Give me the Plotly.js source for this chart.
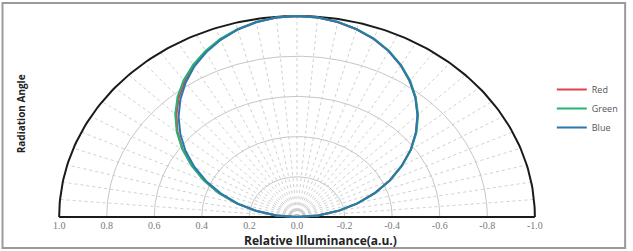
<!DOCTYPE html>
<html>
<head>
<meta charset="utf-8">
<script src="https://cdn.plot.ly/plotly-3.0.1.min.js"></script>
<style>html,body{margin:0;padding:0;background:#fff}#chart{width:633px;height:251px}</style>
</head>
<body>
<div id="chart"></div>
<script>
// Radiation angle in degrees (from the normal), left side negative
const angles = [-90,-85,-80,-75,-70,-65,-60,-55,-50,-45,-40,-35,-30,-25,-20,-15,-10,-5,0,5,10,15,20,25,30,35,40,45,50,55,60,65,70,75,80,85,90];
// Relative illuminance per series
const redValues   = [0,0.088,0.176,0.263,0.348,0.431,0.511,0.586,0.655,0.717,0.774,0.824,0.869,0.907,0.940,0.966,0.985,0.996,1.0,0.996,0.985,0.967,0.943,0.911,0.872,0.826,0.775,0.717,0.653,0.584,0.508,0.430,0.348,0.263,0.177,0.088,0];
const greenValues = [0,0.089,0.178,0.266,0.351,0.433,0.512,0.589,0.660,0.724,0.781,0.831,0.874,0.911,0.943,0.968,0.986,0.996,1.0,0.997,0.986,0.968,0.945,0.913,0.874,0.829,0.777,0.720,0.656,0.586,0.510,0.432,0.350,0.265,0.178,0.089,0];
const blueValues  = [0,0.085,0.172,0.257,0.340,0.421,0.498,0.572,0.640,0.704,0.763,0.816,0.864,0.904,0.938,0.965,0.984,0.996,1.0,0.996,0.985,0.967,0.943,0.911,0.872,0.826,0.774,0.716,0.652,0.583,0.508,0.430,0.348,0.263,0.177,0.088,0];
const seriesNames = ['Red','Green','Blue'];
const seriesColors = ['#e2404a','#25b474','#2b78ae'];
// Axis ticks
const tickValues = [1.0,0.8,0.6,0.4,0.2,0.0,-0.2,-0.4,-0.6,-0.8,-1.0];
const tickLabels = ['1.0','0.8','0.6','0.4','0.2','0.0','-0.2','-0.4','-0.6','-0.8','-1.0'];
// Grid
const ringRadii = [0.2,0.4,0.6,0.8];
const outerRadius = 1.0;
const spokeAngles = [];
for (let a = -85; a <= 85; a += 5) spokeAngles.push(a);

const deg = Math.PI/180;
function toXY(r, a){ return [-r*Math.sin(a*deg), r*Math.cos(a*deg)]; }
function arc(r){
  const xs=[], ys=[];
  for (let a=-90; a<=90; a+=1){ const p=toXY(r,a); xs.push(p[0]); ys.push(p[1]); }
  return {xs, ys};
}

const traces = [];
// spokes
{
  const xs=[], ys=[];
  spokeAngles.forEach(a=>{ const p=toXY(outerRadius,a); xs.push(0,p[0],null); ys.push(0,p[1],null); });
  traces.push({x:xs,y:ys,mode:'lines',line:{color:'#bcbcbc',width:0.7,dash:'dot'},hoverinfo:'skip',showlegend:false});
}
// rings
ringRadii.forEach(r=>{
  const c=arc(r);
  traces.push({x:c.xs,y:c.ys,mode:'lines',line:{color:'#c6c6c6',width:1},hoverinfo:'skip',showlegend:false});
});
// outer ring + baseline
{
  const c=arc(outerRadius);
  traces.push({x:c.xs,y:c.ys,mode:'lines',line:{color:'#1a1a1a',width:2},hoverinfo:'skip',showlegend:false});
  traces.push({x:[outerRadius,-outerRadius],y:[0,0],mode:'lines',line:{color:'#1a1a1a',width:2},hoverinfo:'skip',showlegend:false});
}
// data
[redValues,greenValues,blueValues].forEach((vals,i)=>{
  const xs=[], ys=[];
  vals.forEach((r,k)=>{ const p=toXY(r,angles[k]); xs.push(p[0]); ys.push(p[1]); });
  traces.push({x:xs,y:ys,mode:'lines',name:seriesNames[i],line:{color:seriesColors[i],width:2}});
});

const T=10, H=208;
const layout = {
  width:633, height:251,
  margin:{l:52,r:86,t:T,b:251-T-H},
  paper_bgcolor:'#fff', plot_bgcolor:'#fff',
  showlegend:true,
  legend:{x:1.02,y:1-(75-T)/H,xanchor:'left',yanchor:'top',font:{family:'Open Sans, sans-serif',size:9,color:'#555'},traceorder:'normal',itemwidth:30,tracegroupgap:0,bgcolor:'rgba(0,0,0,0)'},
  xaxis:{range:[1.03,-1.03],tickvals:tickValues,ticktext:tickLabels,showgrid:false,zeroline:false,showline:false,ticks:'',
         tickfont:{family:'Liberation Serif, serif',size:10,color:'#7a7a7a'},fixedrange:true},
  yaxis:{range:[-0.005,1.03],showgrid:false,zeroline:false,showline:false,showticklabels:false,ticks:'',fixedrange:true},
  annotations:[
    {text:'<b>Relative Illuminance(a.u.)</b>',xref:'paper',yref:'paper',x:(323-52)/495,y:1-(240.5-T)/H,xanchor:'center',yanchor:'middle',showarrow:false,font:{family:'Open Sans, sans-serif',size:12,color:'#222'}},
    {text:'<b>Radiation Angle</b>',xref:'paper',yref:'paper',x:(21-52)/495,y:1-(114-T)/H,xanchor:'center',yanchor:'middle',textangle:-90,showarrow:false,font:{family:'Open Sans, sans-serif',size:10,color:'#222'}}
  ],
  shapes:[
    {type:'rect',xref:'paper',yref:'paper',x0:(2-52)/495,x1:(631-52)/495,y0:1-(248-T)/H,y1:1-(3-T)/H,line:{color:'#9a9a9a',width:2},fillcolor:'rgba(0,0,0,0)'}
  ]
};
Plotly.newPlot('chart',traces,layout,{displayModeBar:false,staticPlot:true});
</script>
</body>
</html>
